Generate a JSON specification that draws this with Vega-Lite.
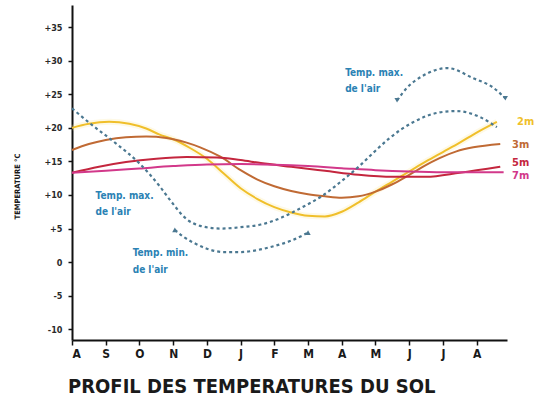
{
  "$schema": "https://vega.github.io/schema/vega-lite/v6.json",
  "width": 435,
  "height": 335,
  "autosize": {"type": "none"},
  "padding": {"left": 72, "top": 5, "right": 28, "bottom": 61},
  "background": "#ffffff",
  "config": {"view": {"stroke": null}, "font": "DejaVu Sans Condensed"},
  "title": {
    "text": "PROFIL DES TEMPERATURES DU SOL",
    "orient": "bottom",
    "anchor": "start",
    "frame": "group",
    "font": "DejaVu Sans Condensed",
    "fontSize": 20,
    "fontWeight": "bold",
    "color": "#1a1a1a",
    "offset": 18,
    "dx": -4
  },
  "datasets": {
    "soil": [
      {"depth": "2m", "month": 0, "temp": 20.0}, {"depth": "2m", "month": 0.5, "temp": 20.6}, {"depth": "2m", "month": 1.1, "temp": 20.9}, {"depth": "2m", "month": 1.7, "temp": 20.6}, {"depth": "2m", "month": 2.2, "temp": 19.9}, {"depth": "2m", "month": 2.6, "temp": 19.0}, {"depth": "2m", "month": 3.0, "temp": 18.3}, {"depth": "2m", "month": 3.5, "temp": 17.0}, {"depth": "2m", "month": 4.0, "temp": 15.4}, {"depth": "2m", "month": 4.5, "temp": 13.2}, {"depth": "2m", "month": 5.0, "temp": 11.0}, {"depth": "2m", "month": 5.5, "temp": 9.4}, {"depth": "2m", "month": 6.0, "temp": 8.2}, {"depth": "2m", "month": 6.5, "temp": 7.4}, {"depth": "2m", "month": 7.0, "temp": 6.9}, {"depth": "2m", "month": 7.5, "temp": 6.8}, {"depth": "2m", "month": 8.0, "temp": 7.5}, {"depth": "2m", "month": 8.5, "temp": 8.9}, {"depth": "2m", "month": 9.0, "temp": 10.5}, {"depth": "2m", "month": 9.5, "temp": 12.0}, {"depth": "2m", "month": 10.0, "temp": 13.5}, {"depth": "2m", "month": 10.5, "temp": 15.0}, {"depth": "2m", "month": 11.0, "temp": 16.4}, {"depth": "2m", "month": 11.5, "temp": 17.8}, {"depth": "2m", "month": 12.0, "temp": 19.3}, {"depth": "2m", "month": 12.6, "temp": 20.9},
      {"depth": "3m", "month": 0, "temp": 16.7}, {"depth": "3m", "month": 0.5, "temp": 17.6}, {"depth": "3m", "month": 1.0, "temp": 18.2}, {"depth": "3m", "month": 1.6, "temp": 18.6}, {"depth": "3m", "month": 2.2, "temp": 18.7}, {"depth": "3m", "month": 2.8, "temp": 18.5}, {"depth": "3m", "month": 3.4, "temp": 17.8}, {"depth": "3m", "month": 3.8, "temp": 17.1}, {"depth": "3m", "month": 4.4, "temp": 15.7}, {"depth": "3m", "month": 5.0, "temp": 13.7}, {"depth": "3m", "month": 5.5, "temp": 12.3}, {"depth": "3m", "month": 6.0, "temp": 11.3}, {"depth": "3m", "month": 6.5, "temp": 10.6}, {"depth": "3m", "month": 7.0, "temp": 10.1}, {"depth": "3m", "month": 7.5, "temp": 9.8}, {"depth": "3m", "month": 8.0, "temp": 9.6}, {"depth": "3m", "month": 8.5, "temp": 9.8}, {"depth": "3m", "month": 9.0, "temp": 10.5}, {"depth": "3m", "month": 9.5, "temp": 11.6}, {"depth": "3m", "month": 9.9, "temp": 12.7}, {"depth": "3m", "month": 10.4, "temp": 14.2}, {"depth": "3m", "month": 10.9, "temp": 15.5}, {"depth": "3m", "month": 11.4, "temp": 16.5}, {"depth": "3m", "month": 11.9, "temp": 17.1}, {"depth": "3m", "month": 12.7, "temp": 17.6},
      {"depth": "5m", "month": 0, "temp": 13.3}, {"depth": "5m", "month": 0.8, "temp": 14.2}, {"depth": "5m", "month": 1.6, "temp": 14.9}, {"depth": "5m", "month": 2.5, "temp": 15.4}, {"depth": "5m", "month": 3.4, "temp": 15.65}, {"depth": "5m", "month": 4.3, "temp": 15.6}, {"depth": "5m", "month": 5.0, "temp": 15.2}, {"depth": "5m", "month": 5.6, "temp": 14.75}, {"depth": "5m", "month": 6.5, "temp": 14.2}, {"depth": "5m", "month": 7.5, "temp": 13.6}, {"depth": "5m", "month": 8.5, "temp": 13.0}, {"depth": "5m", "month": 9.5, "temp": 12.7}, {"depth": "5m", "month": 10.5, "temp": 12.7}, {"depth": "5m", "month": 11.5, "temp": 13.3}, {"depth": "5m", "month": 12.7, "temp": 14.2},
      {"depth": "7m", "month": 0, "temp": 13.3}, {"depth": "7m", "month": 1.0, "temp": 13.6}, {"depth": "7m", "month": 2.0, "temp": 13.95}, {"depth": "7m", "month": 3.0, "temp": 14.3}, {"depth": "7m", "month": 4.0, "temp": 14.55}, {"depth": "7m", "month": 5.0, "temp": 14.6}, {"depth": "7m", "month": 6.0, "temp": 14.5}, {"depth": "7m", "month": 7.0, "temp": 14.3}, {"depth": "7m", "month": 8.0, "temp": 14.0}, {"depth": "7m", "month": 9.0, "temp": 13.7}, {"depth": "7m", "month": 10.0, "temp": 13.5}, {"depth": "7m", "month": 11.0, "temp": 13.4}, {"depth": "7m", "month": 12.0, "temp": 13.4}, {"depth": "7m", "month": 12.8, "temp": 13.4}
    ],
    "air": [
      {"series": "max", "month": 0, "temp": 22.9}, {"series": "max", "month": 0.6, "temp": 20.4}, {"series": "max", "month": 1.3, "temp": 17.7}, {"series": "max", "month": 2.0, "temp": 14.7}, {"series": "max", "month": 2.6, "temp": 11.3}, {"series": "max", "month": 2.9, "temp": 9.3}, {"series": "max", "month": 3.4, "temp": 6.4}, {"series": "max", "month": 3.8, "temp": 5.4}, {"series": "max", "month": 4.4, "temp": 5.0}, {"series": "max", "month": 5.0, "temp": 5.2}, {"series": "max", "month": 5.6, "temp": 5.6}, {"series": "max", "month": 6.2, "temp": 6.6}, {"series": "max", "month": 6.8, "temp": 8.1}, {"series": "max", "month": 7.4, "temp": 9.8}, {"series": "max", "month": 8.0, "temp": 12.1}, {"series": "max", "month": 8.5, "temp": 14.2}, {"series": "max", "month": 9.0, "temp": 16.6}, {"series": "max", "month": 9.4, "temp": 18.4}, {"series": "max", "month": 10.1, "temp": 20.8}, {"series": "max", "month": 10.9, "temp": 22.3}, {"series": "max", "month": 11.4, "temp": 22.5}, {"series": "max", "month": 12.1, "temp": 21.6}, {"series": "max", "month": 12.6, "temp": 20.1},
      {"series": "minArc", "month": 3.05, "temp": 4.8}, {"series": "minArc", "month": 3.3, "temp": 3.8}, {"series": "minArc", "month": 3.6, "temp": 2.9}, {"series": "minArc", "month": 4.0, "temp": 2.0}, {"series": "minArc", "month": 4.5, "temp": 1.5}, {"series": "minArc", "month": 5.0, "temp": 1.5}, {"series": "minArc", "month": 5.5, "temp": 1.8}, {"series": "minArc", "month": 6.0, "temp": 2.4}, {"series": "minArc", "month": 6.5, "temp": 3.2}, {"series": "minArc", "month": 7.0, "temp": 4.4},
      {"series": "maxArc", "month": 9.64, "temp": 24.1}, {"series": "maxArc", "month": 9.94, "temp": 26.0}, {"series": "maxArc", "month": 10.42, "temp": 27.8}, {"series": "maxArc", "month": 11.13, "temp": 28.9}, {"series": "maxArc", "month": 11.9, "temp": 27.4}, {"series": "maxArc", "month": 12.49, "temp": 26.0}, {"series": "maxArc", "month": 12.85, "temp": 24.4}
    ],
    "arrows": [
      {"month": 3.05, "temp": 4.8, "dir": "up"},
      {"month": 7.0, "temp": 4.4, "dir": "up"},
      {"month": 9.64, "temp": 24.1, "dir": "down"},
      {"month": 12.85, "temp": 24.4, "dir": "down"}
    ],
    "notes": [
      {"text": "Temp. max.", "month": 0.7, "temp": 9.8},
      {"text": "de l'air", "month": 0.7, "temp": 7.5},
      {"text": "Temp. min.", "month": 1.8, "temp": 1.3},
      {"text": "de l'air", "month": 1.8, "temp": -1.2},
      {"text": "Temp. max.", "month": 8.1, "temp": 28.2},
      {"text": "de l'air", "month": 8.1, "temp": 25.8}
    ],
    "labels": [
      {"depth": "2m", "month": 13.2, "temp": 20.9},
      {"depth": "3m", "month": 13.05, "temp": 17.4},
      {"depth": "5m", "month": 13.05, "temp": 14.75},
      {"depth": "7m", "month": 13.05, "temp": 12.8}
    ]
  },
  "encoding": {
    "x": {
      "field": "month",
      "type": "quantitative",
      "scale": {"domain": [0, 12.9], "nice": false, "zero": false},
      "axis": {
        "title": null,
        "values": [0, 1, 2, 3, 4, 5, 6, 7, 8, 9, 10, 11, 12],
        "labelExpr": "['A','S','O','N','D','J','F','M','A','M','J','J','A'][datum.value]",
        "grid": false,
        "domainColor": "#111111",
        "domainWidth": 2,
        "tickColor": "#111111",
        "tickSize": 5,
        "tickWidth": 1.5,
        "labelFont": "DejaVu Sans Condensed",
        "labelFontSize": 12,
        "labelFontWeight": "bold",
        "labelColor": "#1a1a1a",
        "labelPadding": 3
      }
    },
    "y": {
      "field": "temp",
      "type": "quantitative",
      "scale": {"domain": [-11.6, 38.3], "nice": false, "zero": false},
      "axis": {
        "title": "TEMPERATURE °C",
        "titleFont": "DejaVu Sans Condensed",
        "titleFontSize": 7.5,
        "titleFontWeight": "bold",
        "titleColor": "#1a1a1a",
        "titleAngle": 270,
        "titleAlign": "center",
        "titleBaseline": "middle",
        "titleX": -55,
        "titleY": 181,
        "values": [-10, -5, 0, 5, 10, 15, 20, 25, 30, 35],
        "labelExpr": "datum.value > 0 ? '+' + datum.value : '' + datum.value",
        "grid": false,
        "domainColor": "#111111",
        "domainWidth": 2,
        "tickColor": "#111111",
        "tickSize": 4,
        "tickWidth": 1.5,
        "labelFont": "DejaVu Sans Condensed",
        "labelFontSize": 9,
        "labelFontWeight": "bold",
        "labelColor": "#2a2a2a",
        "labelPadding": 6
      }
    }
  },
  "layer": [
    {
      "data": {"name": "soil"},
      "transform": [{"filter": "datum.depth === '2m'"}],
      "mark": {"type": "line", "interpolate": "monotone", "strokeWidth": 6, "color": "#fbe79a", "opacity": 0.25},
      "encoding": {}
    },
    {
      "data": {"name": "soil"},
      "mark": {"type": "line", "interpolate": "monotone", "strokeWidth": 2},
      "encoding": {
        "color": {
          "field": "depth",
          "type": "nominal",
          "scale": {"domain": ["2m", "3m", "5m", "7m"], "range": ["#f0bf2a", "#c06a34", "#c4263e", "#d2388a"]},
          "legend": null
        }
      }
    },
    {
      "data": {"name": "air"},
      "mark": {"type": "line", "interpolate": "monotone", "strokeWidth": 2.2, "strokeDash": [3, 3], "color": "#4b7891"},
      "encoding": {"detail": {"field": "series", "type": "nominal"}}
    },
    {
      "data": {"name": "arrows"},
      "mark": {"type": "point", "filled": true, "size": 28, "color": "#4b7891", "opacity": 1},
      "encoding": {
        "shape": {
          "field": "dir",
          "type": "nominal",
          "scale": {"domain": ["up", "down"], "range": ["triangle-up", "triangle-down"]},
          "legend": null
        }
      }
    },
    {
      "data": {"name": "notes"},
      "mark": {"type": "text", "align": "left", "baseline": "middle", "font": "DejaVu Sans Condensed", "fontSize": 10, "fontWeight": "bold", "color": "#2b82b4"},
      "encoding": {"text": {"field": "text", "type": "nominal"}}
    },
    {
      "data": {"name": "labels"},
      "mark": {"type": "text", "align": "left", "baseline": "middle", "font": "DejaVu Sans Condensed", "fontSize": 11, "fontWeight": "bold"},
      "encoding": {
        "text": {"field": "depth", "type": "nominal"},
        "color": {"field": "depth", "type": "nominal", "legend": null}
      }
    }
  ]
}
